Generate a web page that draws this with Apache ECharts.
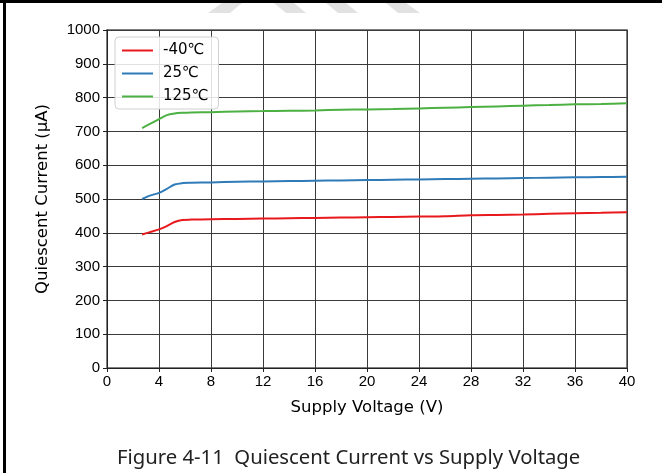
<!DOCTYPE html>
<html>
<head>
<meta charset="utf-8">
<script src="https://cdn.jsdelivr.net/npm/echarts@6/dist/echarts.min.js"></script>
<style>
  html, body { margin: 0; padding: 0; background: #fff; }
  #chart { width: 662px; height: 473px; }
</style>
</head>
<body>
<div id="chart"></div>
<script>
// Supply voltage sample points (V)
const voltage = [2.7, 3.3, 4.0, 4.6, 5.2, 5.8, 6.5, 8, 10, 12, 14, 16, 18, 20, 22, 24, 26, 28, 30, 32, 34, 36, 38, 40];

// Quiescent current (µA) at each temperature
const currentM40 = [395, 402, 410, 420, 432, 438, 439, 440, 441, 442, 443, 444, 445, 446, 447, 448, 449, 452, 453, 454, 456, 458, 459, 461];
const current25  = [500, 510, 518, 530, 543, 547, 548, 549, 551, 552, 553, 554, 555, 556, 557, 558, 559, 560, 561, 562, 563, 564, 565, 566];
const current125 = [710, 722, 736, 748, 753, 755, 756, 757, 759, 760, 761, 762, 764, 765, 766, 768, 770, 772, 774, 776, 778, 780, 781, 783];

const seriesNames = ['-40℃', '25℃', '125℃'];
const seriesColors = ['#e8191c', '#2f7bb8', '#4cb043'];

function pairs(ys) { return voltage.map((v, i) => [v, ys[i]]); }

const chart = echarts.init(document.getElementById('chart'), null, { renderer: 'canvas' });

const tickFont = { fontFamily: 'Liberation Sans', fontSize: 15, color: '#000' };
const nameFont = { fontFamily: 'DejaVu Sans', fontSize: 16.5, color: '#000' };

chart.setOption({
  animation: false,
  backgroundColor: '#fff',
  grid: { left: 107, right: 35, top: 30, bottom: 105, show: true, borderColor: '#555', borderWidth: 1.5 },
  xAxis: {
    type: 'value', min: 0, max: 40, interval: 4,
    name: 'Supply Voltage (V)', nameLocation: 'middle', nameGap: 31,
    nameTextStyle: nameFont,
    axisLine: { show: true, onZero: false, lineStyle: { color: '#222', width: 1 } },
    axisTick: { show: true, inside: false, length: 4, lineStyle: { color: '#222' } },
    axisLabel: Object.assign({ margin: 6 }, tickFont),
    splitLine: { show: true, lineStyle: { color: '#3a3a3a', width: 1 } }
  },
  yAxis: {
    type: 'value', min: 0, max: 1000, interval: 100,
    name: 'Quiescent Current (µA)', nameLocation: 'middle', nameGap: 56,
    nameTextStyle: nameFont,
    axisLine: { show: true, lineStyle: { color: '#222', width: 1 } },
    axisTick: { show: true, inside: false, length: 4, lineStyle: { color: '#222' } },
    axisLabel: Object.assign({ margin: 7, formatter: v => String(v) }, tickFont),
    splitLine: { show: true, lineStyle: { color: '#3a3a3a', width: 1 } }
  },
  legend: {
    orient: 'vertical', left: 115, top: 37,
    data: seriesNames,
    itemWidth: 31, itemHeight: 2, itemGap: 8,
    icon: 'rect',
    padding: [6, 10, 5, 7],
    backgroundColor: 'rgba(255,255,255,0.85)',
    borderColor: '#d0d0d0', borderWidth: 1, borderRadius: 4,
    textStyle: { fontFamily: 'DejaVu Sans', fontSize: 15, color: '#000', padding: [0, 0, 0, 5] }
  },
  series: [currentM40, current25, current125].map((ys, i) => ({
    name: seriesNames[i], type: 'line', data: pairs(ys),
    showSymbol: false, smooth: 0.3,
    lineStyle: { color: seriesColors[i], width: 2 },
    itemStyle: { color: seriesColors[i] }
  })),
  graphic: [
    // page frame
    { type: 'rect', shape: { x: 0, y: 0, width: 662, height: 3 }, style: { fill: '#000' }, silent: true },
    { type: 'rect', shape: { x: 3, y: 0, width: 3, height: 473 }, style: { fill: '#000' }, silent: true },
    // faint header marks
    { type: 'polygon', shape: { points: [[222, 3], [242, 3], [230, 13], [208, 13]] }, style: { fill: '#e2e2e2' }, silent: true },
    { type: 'polygon', shape: { points: [[274, 3], [294, 3], [306, 13], [286, 13]] }, style: { fill: '#e2e2e2' }, silent: true },
    { type: 'polygon', shape: { points: [[326, 3], [346, 3], [358, 13], [338, 13]] }, style: { fill: '#e2e2e2' }, silent: true },
    { type: 'polygon', shape: { points: [[386, 3], [406, 3], [420, 13], [398, 13]] }, style: { fill: '#e2e2e2' }, silent: true },
    // caption
    {
      type: 'text', left: 117, top: 448,
      style: { text: 'Figure 4-11  Quiescent Current vs Supply Voltage', fontFamily: 'Noto Sans', fontSize: 20.3, fill: '#222' }
    }
  ]
});
</script>
</body>
</html>
